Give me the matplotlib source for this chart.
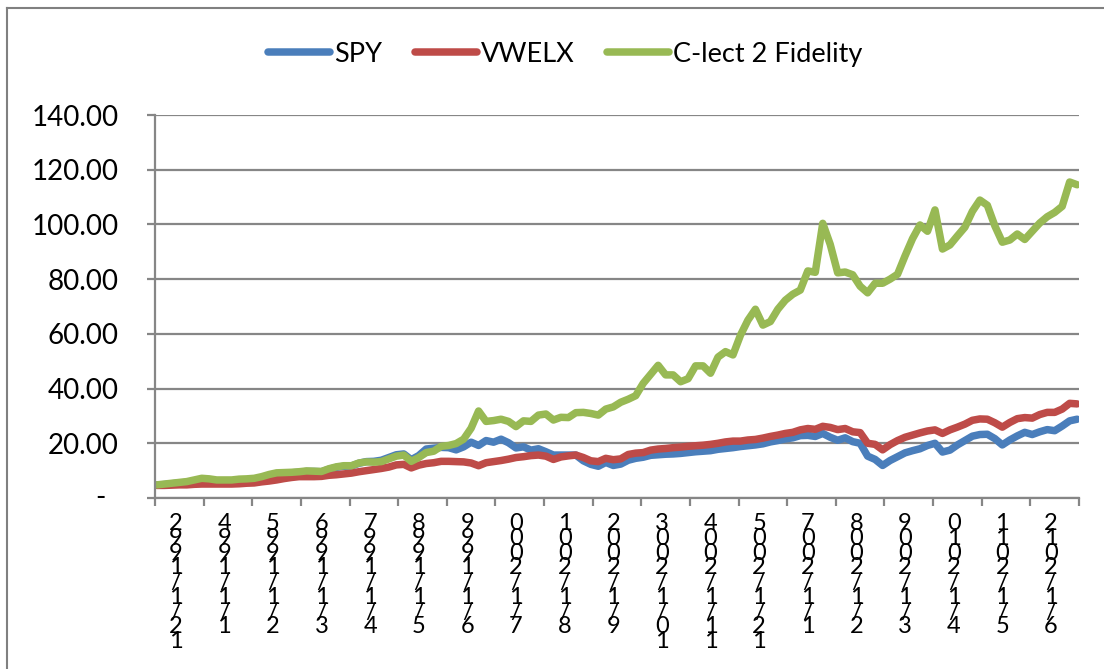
import matplotlib.pyplot as plt
from matplotlib.lines import Line2D

# month index (0 = Dec 1992), sampled every 2 months
months = list(range(0, 247, 2))

spy = [4.7, 4.9, 5.2, 5.5, 5.7, 6.0, 6.1, 6.0, 5.8, 5.9,
       5.9, 6.2, 6.4, 6.6, 7.3, 8.0, 8.7, 9.0, 9.2, 9.4,
       9.7, 9.7, 9.6, 10.5, 11.2, 11.6, 11.7, 12.7, 13.3, 13.4,
       13.8, 14.8, 15.8, 16.1, 14.0, 15.5, 17.9, 18.2, 18.5, 18.4,
       17.6, 18.7, 20.4, 19.2, 21.0, 20.4, 21.5, 20.2, 18.3, 18.7,
       17.5, 18.0, 16.9, 15.7, 15.7, 15.7, 15.7, 13.6, 12.3, 11.6,
       13.0, 11.9, 12.4, 13.8, 14.5, 14.9, 15.6, 15.8, 16.0, 16.1,
       16.3, 16.6, 16.9, 17.1, 17.3, 17.8, 18.1, 18.4, 18.8, 19.1,
       19.4, 19.8, 20.5, 21.0, 21.6, 22.0, 22.8, 22.9, 22.5, 23.6,
       22.2, 21.1, 22.0, 20.6, 20.0, 15.3, 14.1, 11.9, 13.7, 15.1,
       16.5, 17.3, 18.0, 19.2, 20.0, 16.8, 17.5, 19.4, 21.0, 22.6,
       23.2, 23.3, 21.7, 19.4, 21.2, 22.7, 24.0, 23.2, 24.2, 25.0,
       24.6, 26.3, 28.2, 28.8]

vwelx = [4.6, 4.6, 4.7, 4.8, 4.8, 5.0, 5.1, 5.1, 5.1, 5.1,
         5.1, 5.2, 5.4, 5.5, 5.9, 6.2, 6.6, 7.1, 7.5, 7.8,
         7.8, 7.8, 7.9, 8.3, 8.5, 8.8, 9.1, 9.6, 10.0, 10.4,
         10.8, 11.3, 12.1, 12.3, 11.0, 12.0, 12.6, 12.9, 13.4, 13.4,
         13.3, 13.2, 12.8, 11.8, 12.9, 13.3, 13.7, 14.2, 14.8, 15.1,
         15.5, 15.7, 15.3, 14.1, 15.0, 15.4, 15.7, 14.8, 13.6, 13.3,
         14.5, 14.0, 14.3, 15.9, 16.4, 16.6, 17.5, 17.9, 18.1, 18.4,
         18.6, 18.9, 19.1, 19.3, 19.6, 20.0, 20.5, 20.8, 20.8, 21.2,
         21.4, 21.9, 22.5, 23.0, 23.6, 24.0, 24.9, 25.4, 25.1, 26.2,
         25.8, 25.0, 25.4, 24.2, 23.9, 20.0, 19.6, 17.6, 19.5, 21.0,
         22.2, 23.0, 23.8, 24.5, 24.9, 23.6, 24.9, 25.9, 27.0, 28.4,
         28.9, 28.8, 27.5, 25.9, 27.6, 29.0, 29.4, 29.2, 30.5, 31.3,
         31.3, 32.5, 34.6, 34.4]

clect = [4.8, 5.1, 5.4, 5.7, 6.0, 6.6, 7.2, 7.0, 6.6, 6.6,
         6.6, 6.9, 7.0, 7.2, 7.8, 8.6, 9.2, 9.3, 9.4, 9.6,
         9.9, 9.8, 9.7, 10.7, 11.4, 11.8, 11.8, 12.8, 13.2, 13.1,
         13.3, 14.3, 15.3, 15.7, 13.4, 14.8, 16.6, 17.1, 18.9, 19.2,
         19.9, 21.5, 25.5, 31.8, 28.0, 28.3, 28.8, 28.0, 26.1, 28.2,
         28.0, 30.3, 30.7, 28.5, 29.5, 29.4, 31.2, 31.3, 30.9, 30.3,
         32.5, 33.3, 35.0, 36.1, 37.4, 41.9, 45.2, 48.5, 45.0, 45.0,
         42.5, 43.6, 48.3, 48.3, 45.6, 51.5, 53.5, 52.3, 59.5, 65.0,
         69.0, 63.2, 64.5, 69.0, 72.3, 74.5, 76.0, 83.0, 82.5, 100.4,
         92.7, 82.3, 82.6, 81.6, 77.4, 75.0, 78.5, 78.5, 80.0, 81.8,
         88.5, 94.8, 99.8, 97.5, 105.3, 91.0, 92.5, 95.8, 99.0, 104.8,
         108.9, 107.0, 99.5, 93.5, 94.3, 96.5, 94.5, 97.5, 100.5, 102.8,
         104.4, 106.6, 115.5, 114.5]

# category labels as shown (every 13th month)
tick_labels = ["2991/1/21", "4991/1/1", "5991/1/2", "6991/1/3", "7991/1/4",
               "8991/1/5", "9991/1/6", "0002/1/7", "1002/1/8", "2002/1/9",
               "3002/1/01", "4002/1/11", "5002/1/21", "7002/1/1", "8002/1/2",
               "9002/1/3", "0102/1/4", "1102/1/5", "2102/1/6"]

n_months = 247
y_ticks = [0, 20, 40, 60, 80, 100, 120, 140]

plt.rcParams["font.family"] = ["Lato", "DejaVu Sans"]
grey = "#868686"

fig = plt.figure(figsize=(11.04, 6.69), dpi=100)
ax = fig.add_axes([155 / 1104, 1 - 498 / 669, 924 / 1104, 383 / 669])

ax.plot(months, spy, color="#4A7EBB", lw=5.4, label="SPY", solid_capstyle="round")
ax.plot(months, vwelx, color="#BE4B48", lw=5.4, label="VWELX", solid_capstyle="round")
ax.plot(months, clect, color="#98B954", lw=5.4, label="C-lect 2 Fidelity", solid_capstyle="round")

ax.set_xlim(-0.5, n_months - 0.5)
ax.set_ylim(0, 140)

ax.set_yticks(y_ticks)
ax.set_yticklabels([""] + [f"{v:.2f}" for v in y_ticks[1:]], fontsize=20)
ax.tick_params(axis="y", direction="out", length=6, width=1.6, color=grey, pad=20)
ax.annotate("-", xy=(0, 0), xycoords=("axes fraction", "data"), xytext=(-55, 0),
            textcoords="offset pixels", ha="center", va="center", fontsize=20)
ax.grid(axis="y", color=grey, lw=1.6)
ax.set_axisbelow(True)

label_pos = [13 * k + 5 for k in range(len(tick_labels))]
ax.set_xticks(label_pos)
ax.set_xticklabels(["\n".join(s) for s in tick_labels], fontsize=17, linespacing=0.63)
ax.tick_params(axis="x", which="major", length=0, pad=11)
ax.set_xticks([13 * k - 0.5 for k in range(20)], minor=True)
ax.tick_params(axis="x", which="minor", direction="out", length=6, width=1.6, color=grey)

for side in ["top", "right"]:
    ax.spines[side].set_visible(False)
for side in ["left", "bottom"]:
    ax.spines[side].set_color(grey)
    ax.spines[side].set_linewidth(1.6)

leg = fig.legend(loc="center", bbox_to_anchor=(0.512, 0.919), ncol=3, frameon=False,
                 fontsize=19.5, handlelength=2.3, handletextpad=0.15, columnspacing=1.2)
for h in leg.get_lines():
    h.set_linewidth(5.4)

# chart area border
fig.add_artist(Line2D([7 / 1104, 7 / 1104], [0, 1 - 8 / 669], color="#808080", lw=1.5))
fig.add_artist(Line2D([7 / 1104, 1], [1 - 8 / 669, 1 - 8 / 669], color="#808080", lw=1.5))

fig.savefig("out.png", dpi=100)
